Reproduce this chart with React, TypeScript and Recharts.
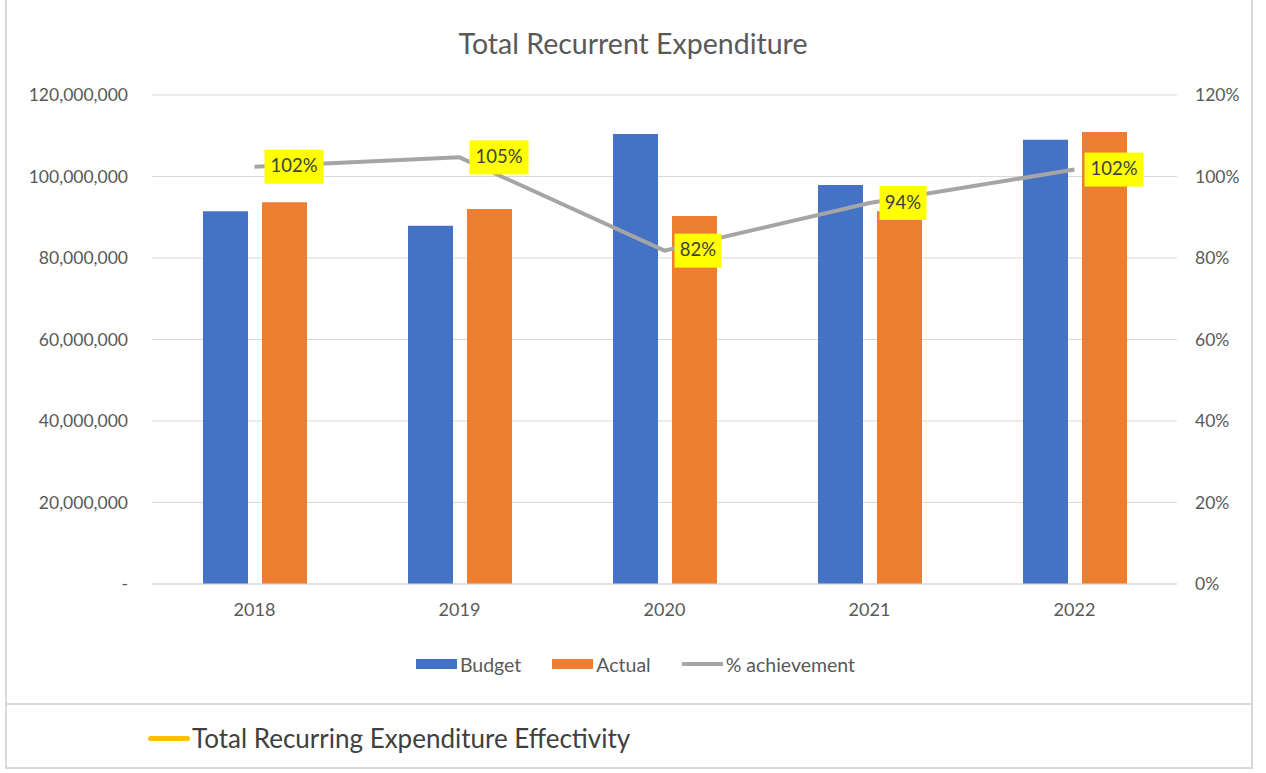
import React from "react";
import {
  ComposedChart,
  Bar,
  Line,
  XAxis,
  YAxis,
  CartesianGrid,
  Legend,
  LabelList,
} from "recharts";

const years = ["2018", "2019", "2020", "2021", "2022"];
const budget = [91500000, 87900000, 110400000, 97900000, 109000000];
const actual = [93700000, 92000000, 90300000, 91500000, 110900000];
const achievement = [1.024, 1.047, 0.818, 0.935, 1.017];
const leftTicks = [0, 20000000, 40000000, 60000000, 80000000, 100000000, 120000000];
const rightTicks = [0, 0.2, 0.4, 0.6, 0.8, 1.0, 1.2];

const data = years.map((y, i) => ({
  year: y,
  budget: budget[i],
  actual: actual[i],
  pct: achievement[i],
}));

const FONT = "Lato, 'Open Sans', sans-serif";
const TEXT = "#595959";

const fmtMoney = (v: number) => (v === 0 ? "-" : v.toLocaleString("en-US"));
const fmtPct = (v: number) => `${Math.round(v * 100)}%`;

const PctLabel = (props: any) => {
  const { x, y, value } = props;
  const text = fmtPct(value);
  const w = text.length * 12 + 11;
  const h = 34;
  const bx = x + 10;
  return (
    <g>
      <rect x={bx} y={y - h / 2} width={w} height={h} fill="#FFFF00" />
      <text
        x={bx + w / 2}
        y={y + 1}
        textAnchor="middle"
        dominantBaseline="middle"
        fontFamily={FONT}
        fontSize={18.5}
        fill="#404040"
      >
        {text}
      </text>
    </g>
  );
};

const LegendContent = () => {
  const items = [
    { label: "Budget", color: "#4472C4", type: "rect" },
    { label: "Actual", color: "#ED7D31", type: "rect" },
    { label: "% achievement", color: "#A5A5A5", type: "line" },
  ];
  return (
    <div
      style={{
        height: 40,
        display: "flex",
        justifyContent: "center",
        alignItems: "center",
        paddingTop: 20,
        paddingLeft: 76,
        boxSizing: "border-box",
        fontFamily: FONT,
        fontSize: 19.5,
        color: TEXT,
        gap: 31,
      }}
    >
      {items.map((it) => (
        <div key={it.label} style={{ display: "flex", alignItems: "center" }}>
          <span
            style={{
              display: "inline-block",
              width: 41,
              height: it.type === "rect" ? 10 : 4,
              background: it.color,
              marginRight: 3,
            }}
          />
          <span>{it.label}</span>
        </div>
      ))}
    </div>
  );
};

export default function App() {
  return (
    <div
      style={{
        position: "absolute",
        left: 0,
        top: 0,
        width: 1266,
        height: 773,
        background: "#ffffff",
        overflow: "hidden",
      }}
    >
      {/* frame */}
      <div
        style={{
          position: "absolute",
          left: 5,
          top: -2,
          width: 1248,
          height: 771,
          border: "2px solid #D9D9D9",
          boxSizing: "border-box",
        }}
      />
      <div
        style={{
          position: "absolute",
          left: 5,
          top: 703,
          width: 1248,
          height: 2,
          background: "#D9D9D9",
        }}
      />
      {/* title */}
      <div
        style={{
          position: "absolute",
          left: 0,
          top: 24,
          width: 1266,
          textAlign: "center",
          fontFamily: FONT,
          fontSize: 28.5,
          color: TEXT,
          lineHeight: "38px",
        }}
      >
        Total Recurrent Expenditure
      </div>
      <div style={{ position: "absolute", left: 0, top: 0 }}>
        <ComposedChart
          width={1266}
          height={700}
          data={data}
          margin={{ top: 95, right: 71, bottom: 26, left: 0 }}
          barCategoryGap="24.6%"
          barGap={14}
        >
          <CartesianGrid vertical={false} stroke="#D9D9D9" strokeWidth={1} yAxisId="left" />
          <XAxis
            dataKey="year"
            axisLine={{ stroke: "#D9D9D9" }}
            tickLine={false}
            tickSize={6}
            tickMargin={13}
            height={50}
            tick={{ fontFamily: FONT, fontSize: 18, fill: TEXT }}
          />
          <YAxis
            yAxisId="left"
            orientation="left"
            width={152}
            domain={[0, 120000000]}
            ticks={leftTicks}
            tickFormatter={fmtMoney}
            axisLine={false}
            tickLine={false}
            tickSize={6}
            tickMargin={18}
            tick={{ fontFamily: FONT, fontSize: 17.5, fill: TEXT }}
          />
          <YAxis
            yAxisId="right"
            orientation="right"
            width={18}
            domain={[0, 1.2]}
            ticks={rightTicks}
            tickFormatter={fmtPct}
            axisLine={false}
            tickLine={false}
            tickSize={6}
            tickMargin={12}
            tick={{ fontFamily: FONT, fontSize: 17.5, fill: TEXT, textAnchor: "start" }}
          />
          <Bar
            yAxisId="left"
            dataKey="budget"
            name="Budget"
            fill="#4472C4"
            barSize={45}
            isAnimationActive={false}
          />
          <Bar
            yAxisId="left"
            dataKey="actual"
            name="Actual"
            fill="#ED7D31"
            barSize={45}
            isAnimationActive={false}
          />
          <Line
            yAxisId="right"
            dataKey="pct"
            name="% achievement"
            stroke="#A5A5A5"
            strokeWidth={4}
            dot={false}
            activeDot={false}
            isAnimationActive={false}
          >
            <LabelList dataKey="pct" content={<PctLabel />} />
          </Line>
          <Legend verticalAlign="bottom" height={40} content={<LegendContent />} />
        </ComposedChart>
      </div>
      {/* bottom legend-like note */}
      <div
        style={{
          position: "absolute",
          left: 148,
          top: 721,
          display: "flex",
          alignItems: "center",
          fontFamily: FONT,
          fontSize: 26,
          color: "#404040",
          lineHeight: "34px",
        }}
      >
        <span
          style={{
            display: "inline-block",
            width: 42,
            height: 5,
            borderRadius: 3,
            background: "#FFC000",
            marginRight: 2,
          }}
        />
        <span>Total Recurring Expenditure Effectivity</span>
      </div>
    </div>
  );
}
